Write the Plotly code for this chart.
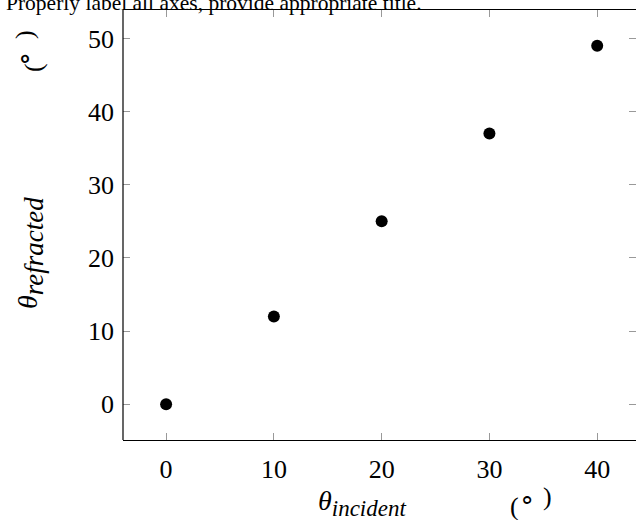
import plotly.graph_objects as go

theta_incident = [0, 10, 20, 30, 40]
theta_refracted = [0, 12, 25, 37, 49]
x_ticks = [0, 10, 20, 30, 40]
y_ticks = [0, 10, 20, 30, 40, 50]

FONT = "Liberation Serif"
L, T, W, H = 123, 10, 513, 430  # plot area in px


def px(xp):
    return (xp - L) / W


def py(yp):
    return (T + H - yp) / H


fig = go.Figure()
fig.add_trace(go.Scatter(
    x=theta_incident, y=theta_refracted, mode="markers",
    marker=dict(color="black", size=12, symbol="circle"),
    showlegend=False, cliponaxis=False,
))

fig.update_layout(
    width=636, height=520,
    margin=dict(l=L, r=636 - L - W, t=T, b=520 - T - H),
    paper_bgcolor="white", plot_bgcolor="white",
    font=dict(family=FONT, color="black", size=26),
    xaxis=dict(range=[-4, 43.6], tickvals=x_ticks, ticks="inside", ticklen=7,
               tickcolor="#999", tickwidth=1, showline=True, linecolor="black",
               linewidth=1.2, mirror="ticks", showgrid=False, zeroline=False,
               ticklabelstandoff=6, tickfont=dict(family=FONT, size=26)),
    yaxis=dict(range=[-4.9, 53.9], tickvals=y_ticks, ticks="inside", ticklen=7,
               tickcolor="#999", tickwidth=1, showline=False,
               mirror="ticks", showgrid=False, zeroline=False,
               ticklabelstandoff=8, tickfont=dict(family=FONT, size=26)),
    shapes=[dict(type="line", xref="paper", yref="paper", x0=0, x1=0, y0=0, y1=1,
                 line=dict(color="black", width=1.2))],
)

fig.add_annotation(text="Properly label all axes, provide appropriate title.",
                   xref="paper", yref="paper", x=px(0), y=1, xanchor="left",
                   yanchor="bottom", yshift=-7, xshift=4, showarrow=False,
                   font=dict(family=FONT, size=21.5))

# x axis label
fig.add_annotation(text='<i>θ<sub><span style="font-size:23px">incident</span></sub></i>',
                   xref="paper", yref="paper", x=px(362), y=py(503),
                   xanchor="center", yanchor="middle",
                   showarrow=False, font=dict(family=FONT, size=28))
for ch, xx, yy in [("(", 514.5, 506), ("∘", 526.5, 499), (")", 547, 497)]:
    fig.add_annotation(text=ch, xref="paper", yref="paper", x=px(xx), y=py(yy),
                       xanchor="center", yanchor="middle", showarrow=False,
                       font=dict(family=FONT, size=26))

# y axis label
fig.add_annotation(text='<i>θ<sub><span style="font-size:27px">refracted</span></sub></i>',
                   xref="paper", yref="paper", xanchor="center", yanchor="middle",
                   x=px(30), y=py(253), textangle=-90, showarrow=False,
                   font=dict(family=FONT, size=28))
for ch, xx, yy in [("(", 33, 68), ("∘", 23.5, 59), (")", 24, 35)]:
    fig.add_annotation(text=ch, xref="paper", yref="paper", x=px(xx), y=py(yy),
                       xanchor="center", yanchor="middle", textangle=-90,
                       showarrow=False, font=dict(family=FONT, size=26))

fig.write_html("out.html", config={"displayModeBar": False},
               post_script="document.body.style.margin='0';")
